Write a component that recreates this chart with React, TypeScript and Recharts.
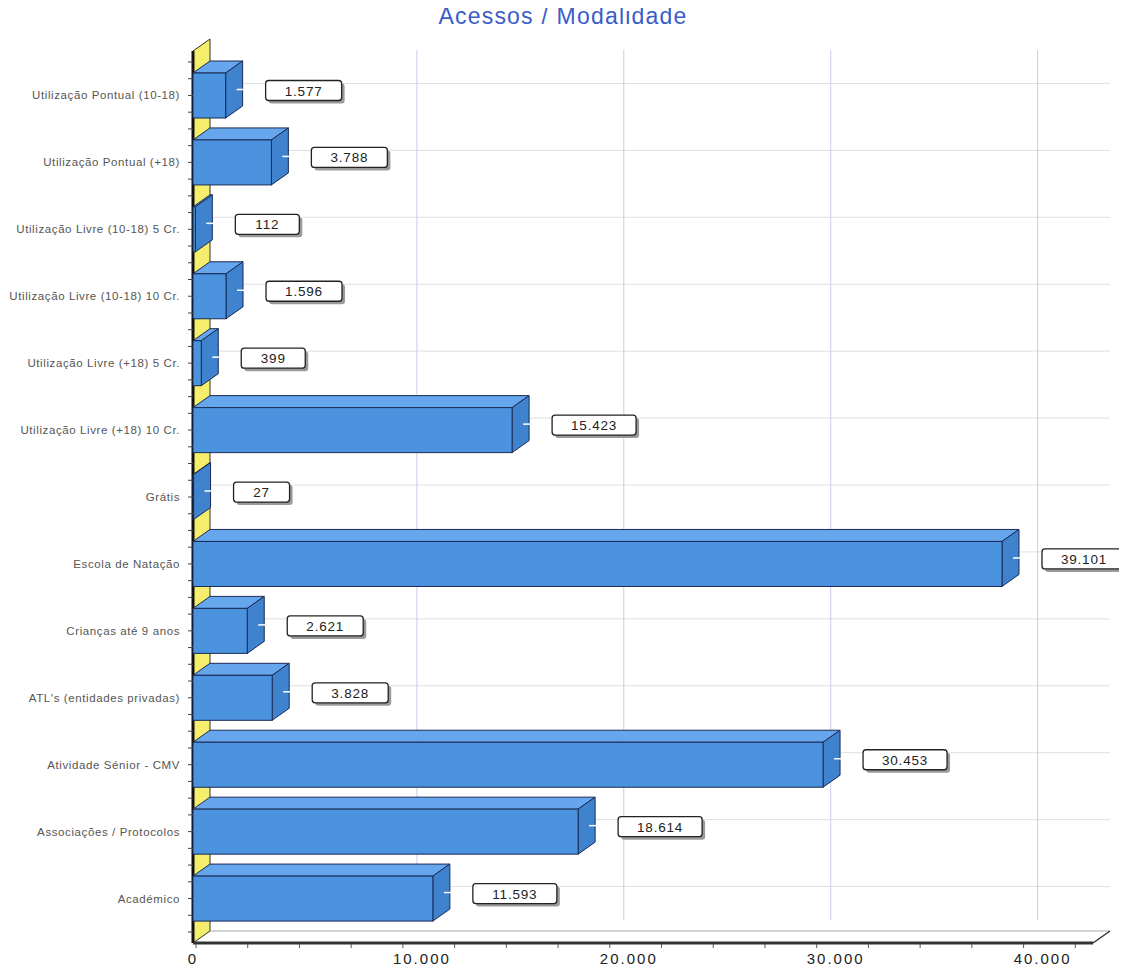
import { BarChart, Bar, XAxis, YAxis, CartesianGrid, ReferenceArea, LabelList } from 'recharts'

const categories = [
  'Utilização Pontual (10-18)',
  'Utilização Pontual (+18)',
  'Utilização Livre (10-18) 5 Cr.',
  'Utilização Livre (10-18) 10 Cr.',
  'Utilização Livre (+18) 5 Cr.',
  'Utilização Livre (+18) 10 Cr.',
  'Grátis',
  'Escola de Natação',
  'Crianças até 9 anos',
  "ATL's (entidades privadas)",
  'Atividade Sénior - CMV',
  'Associações / Protocolos',
  'Académico',
]
const accesses = [1577, 3788, 112, 1596, 399, 15423, 27, 39101, 2621, 3828, 30453, 18614, 11593]
const axisTicks = [
  0, 2500, 5000, 7500, 10000, 12500, 15000, 17500, 20000, 22500, 25000, 27500, 30000, 32500, 35000,
  37500, 40000, 42500,
]
const labelledTicks = [0, 10000, 20000, 30000, 40000]
const gridValues = [10000, 20000, 30000, 40000]

const data = categories.map((name, i) => ({ name, value: accesses[i] }))

// depth of the fake 3d
const DX = 17
const DY = 12
const BAND = 870 / 13
const FONT = "Arial, 'Liberation Sans', sans-serif"

function fmt(v: number): string {
  return String(v).replace(/\B(?=(\d{3})+(?!\d))/g, '.')
}

function Bar3D(props: any) {
  const { x, y, width, height } = props
  const fx = x - DX
  const fy = y + DY
  const stroke = '#1b2b55'
  return (
    <g>
      <polygon
        points={`${fx},${fy} ${fx + width},${fy} ${x + width},${y} ${x},${y}`}
        fill="#66a6ec"
        stroke={stroke}
        strokeWidth={1}
      />
      <polygon
        points={`${fx + width},${fy} ${x + width},${y} ${x + width},${y + height} ${fx + width},${fy + height}`}
        fill="#3f82ce"
        stroke={stroke}
        strokeWidth={1}
      />
      <rect x={fx} y={fy} width={Math.max(width, 0.5)} height={height} fill="#4b93de" stroke={stroke} strokeWidth={1} />
    </g>
  )
}

function Walls(props: any) {
  const { x, y, width, height } = props
  const top = y - 11
  const bottom = y + height + 11
  return (
    <g>
      <polygon
        points={`${x - DX},${top + DY} ${x},${top} ${x},${bottom} ${x - DX},${bottom + DY}`}
        fill="#f4ee6c"
        stroke="#333"
        strokeWidth={1}
      />
      <line x1={x} y1={bottom} x2={x + width} y2={bottom} stroke="#aaa" strokeWidth={1} />
      <line x1={x - DX} y1={top + DY} x2={x - DX} y2={bottom + DY} stroke="#111" strokeWidth={3} />
      <line x1={x - DX} y1={bottom + DY} x2={x + width - DX} y2={bottom + DY} stroke="#333" strokeWidth={3} />
      <line x1={x + width - DX} y1={bottom + DY} x2={x + width} y2={bottom} stroke="#333" strokeWidth={1.5} />
    </g>
  )
}

function ValueBox(props: any) {
  const { x, y, width, height, value } = props
  const text = fmt(value)
  const tw = text.replace('.', '').length * 8 + (text.includes('.') ? 4 : 0)
  const w = tw + 40
  const h = 20
  const bx = x + width + 23
  const cy = y + height / 2 + 7
  return (
    <g>
      <line x1={x + width - 6} y1={cy - 1} x2={x + width + 4} y2={cy - 1} stroke="#fff" strokeWidth={1.5} />
      <rect x={bx + 3} y={cy - h / 2 + 3} width={w} height={h} rx={3} fill="#9a9a9a" />
      <rect x={bx} y={cy - h / 2} width={w} height={h} rx={3} fill="#fff" stroke="#222" strokeWidth={1.3} />
      <text x={bx + w / 2} y={cy + 5} textAnchor="middle" fontFamily={FONT} fontSize={13.5} letterSpacing={0.8} fill="#222">
        {text}
      </text>
    </g>
  )
}

function CategoryTick(props: any) {
  const { x, y, payload } = props
  const fx = x - DX
  const fy = y + DY
  const marks = [-BAND / 4, 0, BAND / 4, BAND / 2]
  return (
    <g>
      {marks.map((m) => (
        <line key={m} x1={fx - 5} y1={fy + m} x2={fx} y2={fy + m} stroke="#444" strokeWidth={1} />
      ))}
      {payload.index === 0 && (
        <line x1={fx - 5} y1={fy - BAND / 2} x2={fx} y2={fy - BAND / 2} stroke="#444" strokeWidth={1} />
      )}
      <text x={fx - 13} y={fy + 4} textAnchor="end" fontFamily={FONT} fontSize={11.5} letterSpacing={0.6} fill="#555">
        {payload.value}
      </text>
    </g>
  )
}

function ValueTick(props: any) {
  const { x, y, payload } = props
  const v = payload.value
  const floorY = y + 23
  return (
    <g>
      <line x1={x - DX + 3} y1={floorY + 1} x2={x - DX + 3} y2={floorY + 5} stroke="#555" strokeWidth={1} />
      {labelledTicks.includes(v) && (
        <text
          x={v === 0 ? x - DX : x + 5}
          y={y + 44}
          textAnchor="middle"
          fontFamily={FONT}
          fontSize={15}
          letterSpacing={2}
          fill="#222"
        >
          {fmt(v)}
        </text>
      )}
    </g>
  )
}

export default function App() {
  return (
    <div style={{ position: 'relative', width: 1119, height: 960 }}>
      <div
        style={{
          position: 'absolute',
          left: 555,
          top: -6,
          transform: 'translateX(-50%)',
          fontFamily: FONT,
          fontSize: 23,
          lineHeight: '28px',
          letterSpacing: 1.2,
          color: '#3a5cc9',
          whiteSpace: 'nowrap',
        }}
      >
        Acessos / Modalidade
      </div>
      <BarChart
        width={1119}
        height={960}
        data={data}
        layout="vertical"
        margin={{ top: 42, right: 17, bottom: 8, left: 0 }}
      >
        <CartesianGrid stroke="#e0e0e0" vertical={false} horizontalValues={categories} />
        <CartesianGrid stroke="#cacaec" horizontal={false} verticalValues={gridValues} />
        <ReferenceArea x1={0} x2={43500} shape={<Walls />} />
        <XAxis
          type="number"
          domain={[0, 43500]}
          ticks={axisTicks}
          interval={0}
          axisLine={false}
          tickLine={false}
          tickSize={0}
          tickMargin={0}
          height={40}
          tick={<ValueTick />}
        />
        <YAxis
          type="category"
          dataKey="name"
          width={202}
          axisLine={false}
          tickLine={false}
          tickSize={0}
          tickMargin={0}
          interval={0}
          tick={<CategoryTick />}
        />
        <Bar dataKey="value" barSize={45} shape={<Bar3D />} isAnimationActive={false}>
          <LabelList dataKey="value" content={<ValueBox />} />
        </Bar>
      </BarChart>
    </div>
  )
}
